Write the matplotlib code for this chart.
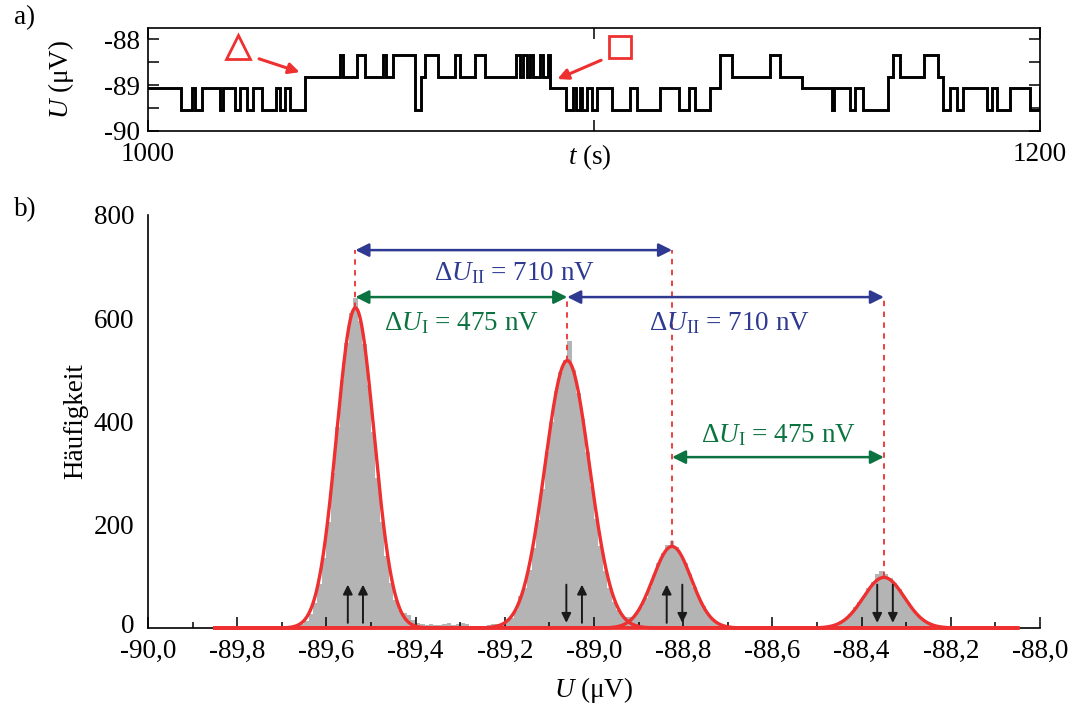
import numpy as np
import matplotlib
matplotlib.use("Agg")
import matplotlib.pyplot as plt
from matplotlib.transforms import ScaledTranslation

plt.rcParams['font.family'] = ['Liberation Serif', 'DejaVu Serif']
plt.rcParams['mathtext.fontset'] = 'custom'
plt.rcParams['mathtext.rm'] = 'Liberation Serif'
plt.rcParams['mathtext.it'] = 'Liberation Serif:italic'
plt.rcParams['font.size'] = 20

# ---------------- data ----------------
# voltage levels of the four telegraph states (µV)
levels_uV = [-89.535, -89.06, -88.825, -88.35]

# time trace: switching times (s) and state index after each switch
switch_t = [1000.0, 1007.5, 1009.8, 1010.5, 1012.0, 1016.1, 1016.9, 1019.5, 1020.6,
            1022.1, 1023.6, 1025.5, 1028.8, 1029.6, 1030.7, 1031.8, 1035.2,
            1043.0, 1043.8, 1046.8, 1048.6, 1052.7, 1053.3, 1055.0, 1059.8, 1061.3,
            1062.0, 1062.4, 1065.1, 1068.8, 1069.9, 1073.3, 1075.5, 1082.6, 1083.4,
            1084.0, 1084.9, 1085.6, 1086.4, 1087.9, 1088.6, 1089.7, 1090.1, 1093.8,
            1095.3, 1095.9, 1096.8, 1097.4, 1098.4, 1099.5, 1100.6, 1104.0, 1108.1,
            1109.6, 1114.8, 1119.0, 1121.2, 1122.7, 1126.0, 1128.3, 1130.9, 1139.5,
            1141.7, 1146.6, 1148.4, 1153.3, 1153.7, 1157.4, 1158.5, 1160.4, 1166.0,
            1167.1, 1168.6, 1173.9, 1177.2, 1178.3, 1179.8, 1181.3, 1182.8, 1188.1,
            1189.2, 1190.3, 1193.3, 1197.8]
switch_state = [1, 0, 1, 0, 1, 0, 1, 0, 1,
                0, 1, 0, 1, 0, 1, 0, 2,
                3, 2, 3, 2, 3, 2, 3, 0, 2,
                3, 3, 2, 3, 2, 3, 2, 3, 2,
                3, 2, 3, 2, 3, 2, 3, 1, 0,
                1, 0, 1, 0, 1, 0, 1, 0, 1,
                0, 1, 0, 1, 0, 1, 0, 3, 2,
                3, 2, 1, 0, 1, 0, 1, 0, 2,
                3, 2, 3, 2, 0, 1, 0, 1, 0,
                1, 0, 1, 0]
switch_state[59:64] = [3, 2, 3, 2, 1]
t_end = 1200.0
final_state = 1

# histogram of the voltage values
hist_first_center = -89.695
hist_bin_width = 0.01
hist_counts = [0, 1, 1, 3, 7, 14, 27, 49, 86, 136, 205, 300, 390, 480, 552, 610, 640,
               595, 550, 470, 380, 290, 205, 140, 88, 55, 35, 30, 25, 15, 10, 7, 5, 8,
               6, 5, 7, 9, 6, 8, 10, 7, 4, 0, 0, 3, 6, 8, 7, 8, 12, 20, 35, 62, 78,
               112, 155, 210, 270, 340, 400, 460, 495, 520, 555, 500, 455, 405, 340,
               275, 212, 158, 110, 78, 50, 35, 24, 21, 22, 30, 41, 58, 80, 102, 125,
               145, 160, 168, 156, 142, 125, 104, 80, 60, 42, 28, 18, 10, 6, 3, 1,
               0, 0, 0, 0, 0, 0, 0, 0, 0, 0, 0, 0, 0, 0, 0, 0, 0, 0, 0, 0,
               1, 2, 5, 8, 13, 20, 28, 40, 50, 62, 78, 90, 105, 110, 104, 96, 88, 75,
               62, 48, 37, 26, 17, 12, 7, 4, 2, 1]

# Gaussian fit parameters (amplitude, centre in µV, sigma in µV)
fit_amp = [620, 518, 158, 98]
fit_center = [-89.535, -89.06, -88.825, -88.35]
fit_sigma = [0.042, 0.050, 0.043, 0.046]
fit_range = [-89.85, -88.05]

# spin configurations drawn under each peak (+1 up, -1 down)
spin_x = [[-89.552, -89.518], [-89.062, -89.027], [-88.837, -88.802], [-88.365, -88.330]]
spin_dir = [[1, 1], [-1, 1], [1, -1], [-1, -1]]

x_ticks = [-90.0, -89.8, -89.6, -89.4, -89.2, -89.0, -88.8, -88.6, -88.4, -88.2, -88.0]
x_ticklabels = ['-90,0', '-89,8', '-89,6', '-89,4', '-89,2', '-89,0', '-88,8',
                '-88,6', '-88,4', '-88,2', '-88,0']
y_ticks = [0, 200, 400, 600, 800]

RED = '#ee3030'
BLUE = '#2e3a92'
GREEN = '#0b7340'
GRAY = '#b4b4b4'
FS = 19.5

fig = plt.figure(figsize=(10.75, 7.19), dpi=100)
W, H = 1075, 719

def px_axes(l, t, r, b):
    return fig.add_axes([l / W, 1 - b / H, (r - l) / W, (b - t) / H])

# ---------------- panel a: time trace ----------------
ax1 = px_axes(148, 28, 1040, 131)
t_pts = np.array(switch_t + [t_end])
u_pts = np.array([levels_uV[s] for s in switch_state + [final_state]])
ax1.step(t_pts, u_pts, where='post', color='black', lw=2.1, solid_joinstyle='miter')
ax1.set_xlim(1000, 1200)
ax1.set_ylim(-90, -87.76)
ax1.set_xticks([1000, 1100, 1200])
ax1.set_xticklabels(['1000', '', '1200'])
ax1.set_yticks([-90, -89, -88])
ax1.set_yticklabels(['-90', '-89', '-88'])
ax1.set_yticks([-89.5, -88.5], minor=True)
ax1.tick_params(which='both', direction='in', top=True, right=True, length=8, width=1.1,
                labelsize=FS)
ax1.tick_params(axis='x', pad=8)
ax1.tick_params(axis='y', pad=6)
for sp in ax1.spines.values():
    sp.set_linewidth(1.2)
ax1.annotate(r'$t$ (s)', xy=(1100, 0), xycoords=('data', 'axes fraction'),
             xytext=(-3, -8), textcoords='offset points', ha='center', va='top', fontsize=FS)
ax1.set_ylabel(r'$U$ (μV)', fontsize=FS, labelpad=20)

# event markers
ax1.plot([1020.2], [-88.17], marker='^', ms=17, mfc='none', mec=RED, mew=2.0, clip_on=False)
ax1.plot([1105.8], [-88.17], marker='s', ms=16, mfc='none', mec=RED, mew=2.0, clip_on=False)
ax1.annotate('', xy=(1034.0, -88.72), xytext=(1024.9, -88.43),
             arrowprops=dict(arrowstyle='-|>', color=RED, lw=2.2, mutation_scale=16,
                             shrinkA=0, shrinkB=0))
ax1.annotate('', xy=(1091.8, -88.87), xytext=(1101.6, -88.46),
             arrowprops=dict(arrowstyle='-|>', color=RED, lw=2.2, mutation_scale=16,
                             shrinkA=0, shrinkB=0))

# ---------------- panel b: histogram ----------------
ax2 = px_axes(148, 215, 1040, 628)
centers = hist_first_center + hist_bin_width * np.arange(len(hist_counts))
ax2.bar(centers, hist_counts, width=hist_bin_width, color=GRAY, edgecolor='none', zorder=1)

xf = np.linspace(fit_range[0], fit_range[1], 2000)
for a, c, s in zip(fit_amp, fit_center, fit_sigma):
    g = a * np.exp(-(xf - c) ** 2 / (2 * s ** 2))
    ax2.plot(xf, g, color=RED, lw=2.4, zorder=3, clip_on=False)

ax2.set_xlim(-90, -88)
ax2.set_ylim(0, 800)
ax2.set_xticks(x_ticks)
ax2.set_xticklabels(x_ticklabels)
ax2.set_xticks(np.arange(-89.9, -88.0, 0.2), minor=True)
ax2.set_yticks(y_ticks)
ax2.tick_params(axis='x', which='major', direction='in', length=8, width=1.1, pad=8, labelsize=FS)
ax2.tick_params(axis='x', which='minor', direction='in', length=4, width=1.1)
ax2.tick_params(axis='y', length=0, pad=10, labelsize=FS)
# lift the "0" label slightly so it stays clear of the x labels
ylab0 = ax2.get_yticklabels()[0]
ylab0.set_transform(ylab0.get_transform() + ScaledTranslation(0, 3 / 72, fig.dpi_scale_trans))
ax2.spines['top'].set_visible(False)
ax2.spines['right'].set_visible(False)
for sp in ('left', 'bottom'):
    ax2.spines[sp].set_linewidth(1.2)
ax2.set_xlabel(r'$U$ (μV)', fontsize=FS, labelpad=8)
ax2.set_ylabel('Häufigkeit', fontsize=FS, labelpad=4)

# level separations
y_top, y_mid, y_low = 732, 641, 331
dash_kw = dict(color=RED, lw=1.3, ls=(0, (3, 3)), zorder=2)
ax2.plot([fit_center[0]] * 2, [fit_amp[0], y_top], **dash_kw)
ax2.plot([fit_center[1]] * 2, [fit_amp[1], y_mid], **dash_kw)
ax2.plot([fit_center[2]] * 2, [fit_amp[2], y_top], **dash_kw)
ax2.plot([fit_center[3]] * 2, [fit_amp[3], y_mid], **dash_kw)

def span(x0, x1, y, color):
    ax2.annotate('', xy=(x1, y), xytext=(x0, y),
                 arrowprops=dict(arrowstyle='<|-|>', color=color, lw=1.8,
                                 mutation_scale=20, shrinkA=0, shrinkB=0), zorder=4)

span(fit_center[0], fit_center[2], y_top, BLUE)
span(fit_center[0], fit_center[1], y_mid, GREEN)
span(fit_center[1], fit_center[3], y_mid, BLUE)
span(fit_center[2], fit_center[3], y_low, GREEN)

lab_II = r'$\Delta U_{\mathrm{II}}$ = 710 nV'
lab_I = r'$\Delta U_{\mathrm{I}}$ = 475 nV'
ax2.text(-89.177, 688, lab_II, color=BLUE, ha='center', va='center', fontsize=FS)
ax2.text(-89.296, 590, lab_I, color=GREEN, ha='center', va='center', fontsize=FS)
ax2.text(-88.695, 590, lab_II, color=BLUE, ha='center', va='center', fontsize=FS)
ax2.text(-88.587, 374, lab_I, color=GREEN, ha='center', va='center', fontsize=FS)

# spin arrows
for xs, ds in zip(spin_x, spin_dir):
    for x, d in zip(xs, ds):
        y0, y1 = (10, 84) if d > 0 else (84, 10)
        ax2.annotate('', xy=(x, y1), xytext=(x, y0),
                     arrowprops=dict(arrowstyle='-|>', color='#1a1a1a', lw=1.4,
                                     mutation_scale=14, shrinkA=0, shrinkB=0), zorder=4)

fig.text(25 / W, 1 - 18 / H, 'a)', ha='center', va='center', fontsize=FS)
fig.text(25 / W, 1 - 210 / H, 'b)', ha='center', va='center', fontsize=FS)

fig.savefig('out.png', dpi=100)
